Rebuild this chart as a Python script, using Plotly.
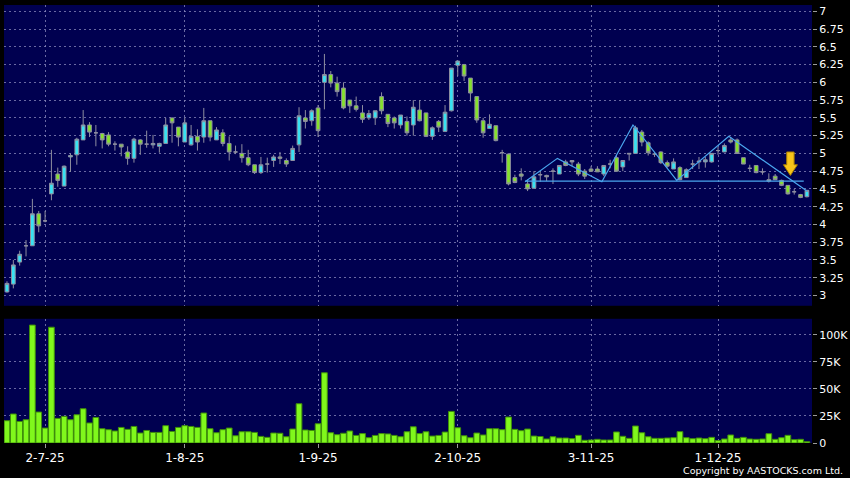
import pandas as pd
import plotly.graph_objects as go

# ---------------- data ----------------
holidays = ["2025-07-01", "2025-10-01", "2025-10-29"]
dates = [d.strftime("%Y-%m-%d") for d in pd.bdate_range("2025-06-23", "2025-12-19")
         if d.strftime("%Y-%m-%d") not in holidays]

open_ = [3.05, 3.16, 3.47, 3.70, 3.70, 4.15, 4.05, 4.43, 4.71, 4.54,
         4.95, 4.98, 5.19, 5.40, 5.29, 5.28, 5.26, 5.13, 5.13, 5.02,
         4.93, 5.19, 5.13, 5.12, 5.10, 5.14, 5.50, 5.37, 5.16, 5.12,
         5.24, 5.23, 5.46, 5.19, 5.29, 5.14, 5.02, 5.00, 4.94, 4.84,
         4.73, 4.85, 4.90, 4.95, 4.90, 4.90, 5.12, 5.50, 5.46, 5.64,
         6.00, 6.11, 5.99, 5.92, 5.75, 5.67, 5.57, 5.50, 5.50, 5.80,
         5.55, 5.50, 5.40, 5.45, 5.40, 5.61, 5.57, 5.24, 5.45, 5.31,
         5.60, 6.24, 6.25, 6.06, 5.80, 5.46, 5.35, 5.39, 5.01, 4.99,
         4.66, 4.71, 4.57, 4.51, 4.70, 4.69, 4.75, 4.71, 4.88, 4.90,
         4.85, 4.75, 4.78, 4.78, 4.71, 4.85, 4.94, 4.81, 4.99, 5.00,
         5.30, 5.15, 4.99, 5.02, 4.87, 4.78, 4.80, 4.66, 4.85, 4.88,
         4.88, 4.88, 5.04, 5.02, 5.19, 5.19, 4.94, 4.79, 4.83, 4.74,
         4.63, 4.68, 4.62, 4.55, 4.46, 4.42, 4.39]
high = [3.20, 3.50, 3.63, 3.78, 4.36, 4.19, 4.19, 5.05, 4.80, 4.83,
        5.00, 5.22, 5.61, 5.44, 5.40, 5.29, 5.30, 5.17, 5.13, 5.10,
        5.22, 5.20, 5.32, 5.26, 5.15, 5.50, 5.50, 5.37, 5.50, 5.40,
        5.34, 5.64, 5.46, 5.37, 5.34, 5.24, 5.11, 5.13, 5.05, 4.84,
        4.95, 4.94, 4.98, 5.02, 4.93, 5.11, 5.65, 5.61, 5.62, 5.68,
        6.40, 6.16, 6.08, 6.00, 5.75, 5.80, 5.68, 5.61, 5.60, 5.86,
        5.55, 5.52, 5.54, 5.52, 5.75, 5.75, 5.57, 5.38, 5.47, 5.68,
        6.20, 6.30, 6.26, 6.06, 5.80, 5.50, 5.55, 5.39, 5.05, 5.00,
        4.70, 4.79, 4.63, 4.75, 4.75, 4.70, 4.79, 4.83, 4.91, 4.90,
        4.88, 4.78, 4.82, 4.82, 4.83, 4.91, 4.98, 4.90, 5.00, 5.39,
        5.33, 5.17, 5.02, 5.03, 4.90, 4.93, 4.82, 4.79, 4.91, 4.95,
        4.95, 5.00, 5.09, 5.14, 5.23, 5.21, 4.94, 4.84, 4.83, 4.79,
        4.72, 4.71, 4.63, 4.55, 4.50, 4.43, 4.48]
low = [3.04, 3.10, 3.42, 3.55, 3.70, 3.89, 4.03, 4.34, 4.53, 4.54,
       4.74, 4.84, 5.19, 5.23, 5.10, 5.07, 5.10, 5.04, 4.96, 4.84,
       4.87, 4.98, 5.08, 5.07, 5.01, 5.14, 5.15, 5.10, 5.16, 5.11,
       5.04, 5.15, 5.17, 5.19, 5.10, 4.90, 4.99, 4.87, 4.82, 4.71,
       4.71, 4.73, 4.81, 4.85, 4.81, 4.90, 5.02, 5.35, 5.39, 5.23,
       5.62, 5.93, 5.80, 5.62, 5.57, 5.59, 5.43, 5.47, 5.40, 5.55,
       5.37, 5.35, 5.35, 5.25, 5.25, 5.45, 5.23, 5.19, 5.30, 5.30,
       5.59, 6.09, 6.02, 5.73, 5.43, 5.22, 5.35, 5.17, 4.87, 4.55,
       4.58, 4.62, 4.47, 4.50, 4.60, 4.61, 4.57, 4.71, 4.82, 4.82,
       4.68, 4.64, 4.74, 4.74, 4.68, 4.79, 4.74, 4.75, 4.90, 5.00,
       5.10, 4.97, 4.95, 4.85, 4.80, 4.78, 4.62, 4.66, 4.78, 4.78,
       4.80, 4.87, 4.98, 5.02, 5.14, 5.00, 4.85, 4.75, 4.72, 4.70,
       4.59, 4.63, 4.54, 4.42, 4.42, 4.37, 4.38]
close = [3.17, 3.43, 3.58, 3.70, 4.15, 3.98, 4.05, 4.58, 4.62, 4.82,
         4.97, 5.20, 5.40, 5.30, 5.29, 5.19, 5.13, 5.13, 5.09, 4.93,
         5.20, 5.13, 5.13, 5.14, 5.14, 5.40, 5.43, 5.23, 5.43, 5.24,
         5.16, 5.46, 5.23, 5.33, 5.14, 5.02, 5.02, 4.94, 4.84, 4.73,
         4.84, 4.85, 4.95, 4.93, 4.85, 5.07, 5.53, 5.45, 5.60, 5.32,
         6.11, 5.99, 5.87, 5.64, 5.67, 5.62, 5.48, 5.56, 5.60, 5.60,
         5.42, 5.43, 5.54, 5.29, 5.65, 5.46, 5.24, 5.36, 5.37, 5.58,
         6.20, 6.30, 6.09, 5.85, 5.47, 5.29, 5.41, 5.18, 5.01, 4.57,
         4.59, 4.68, 4.50, 4.67, 4.70, 4.67, 4.75, 4.83, 4.83, 4.88,
         4.71, 4.68, 4.75, 4.74, 4.83, 4.85, 4.75, 4.90, 5.00, 5.36,
         5.16, 5.01, 4.99, 4.87, 4.82, 4.88, 4.63, 4.77, 4.85, 4.89,
         4.91, 5.00, 5.04, 5.11, 5.16, 5.00, 4.85, 4.79, 4.73, 4.74,
         4.61, 4.63, 4.55, 4.43, 4.46, 4.38, 4.48]
volume_k = [20.6, 26.8, 19.9, 21.5, 109.0, 28.6, 13.8, 107.0, 22.7, 24.6,
            21.5, 26.1, 31.7, 18.5, 23.6, 13.2, 12.3, 11.1, 14.4, 12.6,
            15.3, 9.2, 11.6, 9.8, 9.8, 16.0, 10.7, 14.4, 16.0, 15.3,
            14.4, 27.7, 13.2, 9.5, 12.3, 13.8, 6.7, 10.4, 10.4, 9.8,
            6.1, 5.2, 9.2, 9.0, 5.8, 12.9, 36.3, 12.0, 11.6, 17.8,
            64.9, 9.5, 7.7, 9.0, 11.1, 7.0, 8.7, 4.9, 7.0, 8.7,
            8.4, 7.0, 5.8, 10.4, 15.0, 8.7, 10.4, 6.4, 7.0, 10.1,
            29.2, 14.1, 6.7, 4.9, 9.2, 7.4, 13.2, 13.2, 12.3, 24.0,
            12.6, 11.4, 12.9, 6.4, 6.0, 3.7, 5.8, 4.6, 4.6, 4.0,
            7.1, 2.5, 2.8, 3.4, 2.8, 2.8, 10.2, 6.2, 4.3, 15.7,
            9.5, 5.8, 4.3, 4.3, 4.6, 4.9, 10.5, 4.9, 4.0, 4.6,
            4.0, 5.2, 2.2, 3.7, 7.4, 4.3, 5.2, 3.7, 3.4, 3.7,
            8.6, 3.4, 4.9, 7.1, 3.1, 3.4, 1.2]
volume = [v * 1000 for v in volume_k]

tick_dates = ["2025-07-02", "2025-08-01", "2025-09-01", "2025-10-02", "2025-11-03", "2025-12-01"]
tick_labels = ["2-7-25", "1-8-25", "1-9-25", "2-10-25", "3-11-25", "1-12-25"]
price_ticks = [3, 3.25, 3.5, 3.75, 4, 4.25, 4.5, 4.75, 5, 5.25, 5.5, 5.75, 6, 6.25, 6.5, 6.75, 7]
price_labels = ["3", "3.25", "3.5", "3.75", "4", "4.25", "4.5", "4.75", "5", "5.25",
                "5.5", "5.75", "6", "6.25", "6.5", "6.75", "7"]
vol_ticks = [0, 25000, 50000, 75000, 100000]
vol_labels = ["0", "25K", "50K", "75K", "100K"]

# pattern annotation (position index, price)
zigzag_pos = [81.6, 86.7, 93.7, 98.6, 105.5, 113.7, 126.0]
zigzag_price = [4.60, 4.93, 4.60, 5.40, 4.62, 5.24, 4.47]
neck_pos = [81.6, 125.5]
neck_price = [4.61, 4.61]
arrow_pos = 123.4
arrow_top, arrow_shoulder, arrow_tip = 5.02, 4.84, 4.69

# ---------------- figure ----------------
x = list(range(len(dates)))
tickvals = [dates.index(d) for d in tick_dates]

NAVY = "#000050"
GRID = "rgba(140,140,190,0.75)"
FONT = "DejaVu Sans"

fig = go.Figure()
fig.add_trace(go.Candlestick(
    x=x, open=open_, high=high, low=low, close=close,
    xaxis="x2", yaxis="y2",
    increasing=dict(fillcolor="#38e2f2", line=dict(color="#8e8ea0", width=1)),
    decreasing=dict(fillcolor="#86e22c", line=dict(color="#8e8ea0", width=1)),
    whiskerwidth=0, hoverinfo="skip", showlegend=False))
fig.add_trace(go.Bar(
    x=x, y=volume, xaxis="x", yaxis="y",
    marker=dict(color="#80f81c", line=dict(color="#3f8f0a", width=1)),
    hoverinfo="skip", showlegend=False))

shapes = []
path = "M " + " L ".join(f"{p},{v}" for p, v in zip(zigzag_pos, zigzag_price))
shapes.append(dict(type="path", xref="x2", yref="y2", path=path,
                   line=dict(color="#4aa6ee", width=1.2)))
shapes.append(dict(type="line", xref="x2", yref="y2",
                   x0=neck_pos[0], x1=neck_pos[1], y0=neck_price[0], y1=neck_price[1],
                   line=dict(color="#4aa6ee", width=1.2)))
sw, hw = 0.58, 1.1
ap = (f"M {arrow_pos-sw},{arrow_top} L {arrow_pos+sw},{arrow_top} "
      f"L {arrow_pos+sw},{arrow_shoulder} L {arrow_pos+hw},{arrow_shoulder} "
      f"L {arrow_pos},{arrow_tip} L {arrow_pos-hw},{arrow_shoulder} "
      f"L {arrow_pos-sw},{arrow_shoulder} Z")
shapes.append(dict(type="path", xref="x2", yref="y2", path=ap,
                   fillcolor="#f7c41a", line=dict(color="#a87c00", width=1)))

xr = [-0.47, 126.8]
common_x = dict(range=xr, showgrid=True, gridcolor=GRID, griddash="2px,3px", gridwidth=1,
                zeroline=False, showline=False, tickvals=tickvals, fixedrange=True)

fig.update_layout(
    width=850, height=478,
    paper_bgcolor="#000000", plot_bgcolor=NAVY,
    margin=dict(l=4, r=38.3, t=5, b=34.7),
    boxgap=0.16, bargap=0.1,
    font=dict(family=FONT, color="#ffffff"),
    showlegend=False,
    shapes=shapes,
    xaxis=dict(**common_x, anchor="y", domain=[0, 1], ticktext=tick_labels,
               ticks="outside", ticklen=4, tickcolor="#9a9a9a",
               tickfont=dict(size=12, color="#ffffff", family=FONT),
               rangeslider=dict(visible=False), automargin=False),
    xaxis2=dict(**common_x, anchor="y2", domain=[0, 1], matches="x",
                showticklabels=False, ticks="", rangeslider=dict(visible=False),
                automargin=False),
    yaxis=dict(domain=[0, 0.2836], range=[0, 114800], side="right",
               tickvals=vol_ticks, ticktext=vol_labels,
               showgrid=True, gridcolor=GRID, griddash="2px,3px", zeroline=False,
               ticks="outside", ticklen=4, tickcolor="#9a9a9a",
               tickfont=dict(size=11, color="#ffffff", family=FONT),
               automargin=False, fixedrange=True),
    yaxis2=dict(domain=[0.3133, 1], range=[2.855, 7.089], side="right",
                tickvals=price_ticks, ticktext=price_labels,
                showgrid=True, gridcolor=GRID, griddash="2px,3px", zeroline=False,
                ticks="outside", ticklen=4, tickcolor="#9a9a9a",
                tickfont=dict(size=11, color="#ffffff", family=FONT),
                automargin=False, fixedrange=True),
    annotations=[dict(text="Copyright by AASTOCKS.com Ltd.", xref="paper", yref="paper",
                      x=1.041, y=-0.0632, xanchor="right", yanchor="middle",
                      showarrow=False, font=dict(size=9.5, color="#ffffff", family=FONT))],
)

fig.write_html("out.html", config={"displayModeBar": False},
               post_script="document.body.style.margin='0';document.body.style.padding='0';"
                           "document.body.style.background='#000';")
